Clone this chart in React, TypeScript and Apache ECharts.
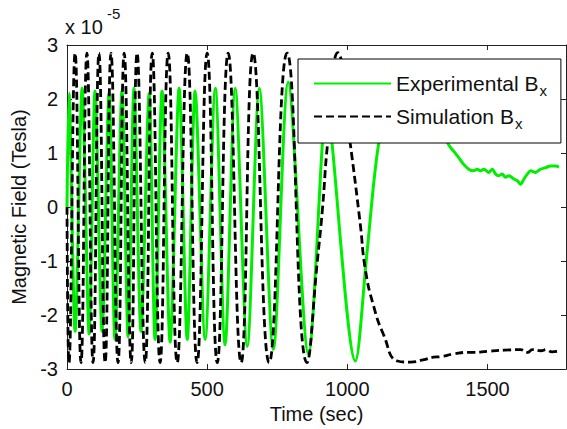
import { useEffect, useRef } from 'react';
import * as echarts from 'echarts';

// Simulation B_x (units of 1e-5 T)
const simTime = [0, 7, 29, 50, 71, 93, 114, 136, 157, 182, 204, 229, 250, 279, 304, 332, 361, 393, 429, 464, 500, 536, 575, 621, 664, 721, 785, 856, 893, 911, 929, 966, 1011, 1046, 1064, 1093, 1129, 1179, 1225, 1270, 1307, 1332, 1380, 1429, 1450, 1500, 1560, 1618, 1643, 1660, 1690, 1710, 1730, 1753];
const simField = [0, -2.88, 2.85, -2.88, 2.85, -2.88, 2.85, -2.88, 2.85, -2.88, 2.85, -2.88, 2.85, -2.88, 2.85, -2.88, 2.85, -2.88, 2.85, -2.88, 2.85, -2.88, 2.85, -2.88, 2.85, -2.88, 2.85, -2.88, -1.0, -0.05, 1.15, 2.86, 1.15, -0.31, -1.15, -1.82, -2.36, -2.85, -2.87, -2.83, -2.78, -2.77, -2.72, -2.69, -2.69, -2.67, -2.65, -2.64, -2.69, -2.64, -2.66, -2.64, -2.68, -2.67];

// Experimental B_x (units of 1e-5 T)
const expTime = [0, 7, 29, 54, 79, 100, 125, 150, 171, 196, 218, 239, 264, 293, 314, 339, 368, 400, 429, 457, 493, 529, 564, 600, 643, 686, 736, 789, 861, 911, 928, 946, 1029, 1070, 1111, 1160, 1230, 1300, 1362, 1380, 1398, 1415, 1433, 1451, 1463, 1475, 1487, 1505, 1517, 1529, 1540, 1552, 1564, 1576, 1594, 1606, 1618, 1630, 1642, 1654, 1671, 1689, 1707, 1725, 1743, 1755];
const expField = [0, 2.1, -2.3, 2.2, -2.35, 2.15, -2.3, 2.1, -2.45, 2.15, -2.4, 2.2, -2.3, 2.1, -2.45, 2.15, -2.5, 2.2, -2.45, 2.15, -2.45, 2.2, -2.55, 2.2, -2.58, 2.2, -2.64, 2.31, -2.72, 1.18, 2.4, 1.15, -2.85, -0.85, 1.15, 2.1, 2.3, 1.8, 1.15, 1.03, 0.91, 0.79, 0.7, 0.67, 0.7, 0.67, 0.7, 0.64, 0.7, 0.61, 0.58, 0.61, 0.55, 0.58, 0.52, 0.49, 0.42, 0.52, 0.61, 0.67, 0.64, 0.7, 0.73, 0.76, 0.76, 0.74];

const xMin = 0;
const xMax = 1780;
const xStep = 500;
const yMin = -3;
const yMax = 3;
const yStep = 1;

const seriesNames = ['Experimental B', 'Simulation B'];

export default function App() {
  const ref = useRef<HTMLDivElement>(null);
  useEffect(() => {
    const chart = echarts.init(ref.current!, null, { renderer: 'svg' });
    const font = 'Liberation Sans, Arial, sans-serif';
    const ink = '#111';
    const axisLine = { show: true, onZero: false, lineStyle: { color: '#222', width: 1 } };
    const axisTick = { show: true, inside: true, length: 5, lineStyle: { color: '#222', width: 1 } };
    const plain = (v: number) => String(v);
    chart.setOption({
      animation: false,
      backgroundColor: '#ffffff',
      grid: { left: 67, right: 1, top: 45, bottom: 54 },
      xAxis: [
        {
          type: 'value', min: xMin, max: xMax, interval: xStep, position: 'bottom',
          name: 'Time (sec)', nameLocation: 'middle', nameGap: 32,
          nameTextStyle: { fontSize: 20, color: ink, fontFamily: font },
          axisLine, axisTick,
          axisLabel: { margin: 10, fontSize: 20, color: ink, fontFamily: font, showMaxLabel: false, formatter: plain },
          splitLine: { show: false },
        },
        {
          type: 'value', min: xMin, max: xMax, interval: xStep, position: 'top',
          axisLine, axisTick, axisLabel: { show: false }, splitLine: { show: false },
        },
      ],
      yAxis: [
        {
          type: 'value', min: yMin, max: yMax, interval: yStep, position: 'left',
          name: 'Magnetic Field (Tesla)', nameLocation: 'middle', nameGap: 36,
          nameTextStyle: { fontSize: 20, color: ink, fontFamily: font },
          axisLine, axisTick,
          axisLabel: { margin: 9, fontSize: 20, color: ink, fontFamily: font, formatter: plain },
          splitLine: { show: false },
        },
        {
          type: 'value', min: yMin, max: yMax, interval: yStep, position: 'right',
          axisLine, axisTick, axisLabel: { show: false }, splitLine: { show: false },
        },
      ],
      legend: {
        orient: 'vertical', left: 298, top: 59,
        padding: [10, 14, 12, 15],
        itemWidth: 77, itemHeight: 14, itemGap: 4,
        backgroundColor: '#ffffff', borderColor: '#000', borderWidth: 1, borderRadius: 0,
        selectedMode: false,
        data: seriesNames,
        itemStyle: { opacity: 0 },
        formatter: (name: string) => `{n|${name}}{s|x}`,
        textStyle: {
          color: ink, fontFamily: font, fontSize: 21,
          rich: {
            n: { fontSize: 21, color: ink, fontFamily: font, lineHeight: 24 },
            s: { fontSize: 15, color: ink, fontFamily: font, padding: [14, 0, 0, 1], lineHeight: 15 },
          },
        },
      },
      graphic: [
        { type: 'text', left: 65, top: 17, style: { text: 'x 10', fontSize: 20, fill: ink, fontFamily: font } },
        { type: 'text', left: 107, top: 6, style: { text: '-5', fontSize: 15, fill: ink, fontFamily: font } },
      ],
      series: [
        {
          name: seriesNames[0], type: 'line', xAxisIndex: 0, yAxisIndex: 0,
          data: expTime.map((t, i) => [t, expField[i]]),
          symbol: 'none', showSymbol: false, smooth: 0.3,
          color: '#00ee00',
          lineStyle: { color: '#00ee00', width: 3 },
          z: 2,
        },
        {
          name: seriesNames[1], type: 'line', xAxisIndex: 0, yAxisIndex: 0,
          data: simTime.map((t, i) => [t, simField[i]]),
          symbol: 'none', showSymbol: false, smooth: 0.5,
          color: '#000000',
          lineStyle: { color: '#000000', width: 2.8, type: [8, 4] },
          z: 3,
        },
      ],
    });
    return () => chart.dispose();
  }, []);
  return <div ref={ref} style={{ position: 'fixed', left: 0, top: 0, width: 567, height: 429, background: '#fff' }} />;
}
